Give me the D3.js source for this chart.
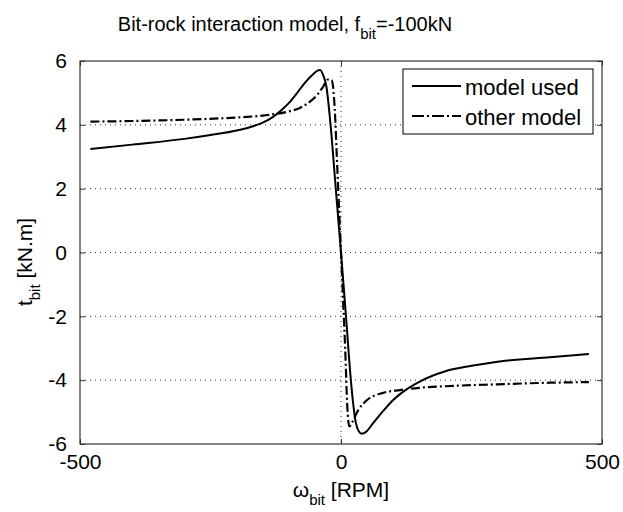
<!DOCTYPE html>
<html>
<head>
<meta charset="utf-8">
<script src="https://cdn.jsdelivr.net/npm/d3@7"></script>
<style>
  body { margin: 0; background: #fff; }
  text { font-family: "Liberation Sans", Arial, sans-serif; fill: #000; }
</style>
</head>
<body>
<div id="chart"></div>
<script>
// data (RPM, kN.m)
var usedRpm = [-480, -400, -300, -250, -200, -170, -150, -130, -115, -100, -85, -70, -55, -45, -40, -34, -28, -20, -10, 0,
               10, 20, 28, 34, 40, 48, 60, 80, 100, 120, 150, 200, 250, 300, 400, 475];
var usedTorque = [3.24, 3.38, 3.56, 3.68, 3.82, 3.95, 4.07, 4.25, 4.45, 4.68, 4.98, 5.30, 5.56, 5.70, 5.72, 5.55, 5.20, 4.00, 2.00, 0,
                  -2.10, -4.20, -5.30, -5.60, -5.68, -5.62, -5.38, -4.98, -4.62, -4.35, -4.05, -3.72, -3.55, -3.42, -3.28, -3.18];
var otherRpm = [-480, -400, -300, -200, -150, -100, -80, -60, -45, -34, -25, -18, -12, -8, -4, 0,
                4, 8, 12, 16, 22, 33, 50, 80, 113, 150, 200, 300, 400, 475];
var otherTorque = [4.10, 4.12, 4.16, 4.23, 4.29, 4.42, 4.52, 4.72, 4.95, 5.20, 5.42, 5.40, 4.50, 3.00, 1.50, 0,
                   -1.50, -3.00, -4.80, -5.45, -5.30, -4.94, -4.62, -4.40, -4.31, -4.24, -4.19, -4.13, -4.08, -4.06];
var xTicks = [-500, 0, 500];
var yTicks = [-6, -4, -2, 0, 2, 4, 6];
var legendLabels = ["model used", "other model"];

var W = 623, H = 512;
var margin = {top: 61, right: 21, bottom: 68, left: 80},
    width = W - margin.left - margin.right,
    height = H - margin.top - margin.bottom;

var svg = d3.select("#chart")
  .append("svg")
    .attr("width", W)
    .attr("height", H)
    .style("background", "#fff");

var g = svg.append("g")
    .attr("transform", "translate(" + margin.left + "," + margin.top + ")");

var x = d3.scaleLinear().domain([-500, 500]).range([0, width]);
var y = d3.scaleLinear().domain([-6, 6]).range([height, 0]);

// plain hyphen minus like matlab
var fmt = function(d) { return String(d); };

// grid (dotted)
g.selectAll(".hgrid")
  .data(yTicks.filter(function(d) { return d > -6 && d < 6; }))
  .enter().append("line")
    .attr("x1", 0).attr("x2", width)
    .attr("y1", function(d) { return y(d); })
    .attr("y2", function(d) { return y(d); })
    .attr("stroke", "#333")
    .attr("stroke-width", 1)
    .attr("stroke-dasharray", "1,4");
g.selectAll(".vgrid")
  .data(xTicks.filter(function(d) { return d > -500 && d < 500; }))
  .enter().append("line")
    .attr("y1", 0).attr("y2", height)
    .attr("x1", function(d) { return x(d); })
    .attr("x2", function(d) { return x(d); })
    .attr("stroke", "#333")
    .attr("stroke-width", 1)
    .attr("stroke-dasharray", "1,4");

// axes: ticks inward, matlab style
var tickLen = 5;
g.append("g")
  .attr("transform", "translate(0," + height + ")")
  .call(d3.axisBottom(x).tickValues(xTicks).tickFormat(fmt).tickSizeInner(-tickLen).tickSizeOuter(0).tickPadding(10))
  .call(function(a) { a.select(".domain").remove(); });
g.append("g")
  .call(d3.axisTop(x).tickValues(xTicks).tickSizeInner(-tickLen).tickSizeOuter(0).tickFormat(""))
  .call(function(a) { a.select(".domain").remove(); });
g.append("g")
  .call(d3.axisLeft(y).tickValues(yTicks).tickFormat(fmt).tickSizeInner(-tickLen).tickSizeOuter(0).tickPadding(13))
  .call(function(a) { a.select(".domain").remove(); });
g.append("g")
  .attr("transform", "translate(" + width + ",0)")
  .call(d3.axisRight(y).tickValues(yTicks).tickSizeInner(-tickLen).tickSizeOuter(0).tickFormat(""))
  .call(function(a) { a.select(".domain").remove(); });

g.selectAll(".tick line").attr("stroke", "#333");
g.selectAll(".tick text")
  .style("font-family", "'Liberation Sans', Arial, sans-serif")
  .style("font-size", "21px")
  .attr("fill", "#000");

// box
g.append("rect")
  .attr("width", width).attr("height", height)
  .attr("fill", "none")
  .attr("stroke", "#333")
  .attr("stroke-width", 1.2);

// curves
var line = d3.line()
  .x(function(d) { return x(d[0]); })
  .y(function(d) { return y(d[1]); })
  .curve(d3.curveMonotoneX);

g.append("path")
  .datum(otherRpm.map(function(r, i) { return [r, otherTorque[i]]; }))
  .attr("d", line)
  .attr("fill", "none")
  .attr("stroke", "#000")
  .attr("stroke-width", 2.2)
  .attr("stroke-dasharray", "9,3,2,3");

g.append("path")
  .datum(usedRpm.map(function(r, i) { return [r, usedTorque[i]]; }))
  .attr("d", line)
  .attr("fill", "none")
  .attr("stroke", "#000")
  .attr("stroke-width", 2);

// legend
var lg = svg.append("g");
lg.append("rect")
  .attr("x", 403).attr("y", 69)
  .attr("width", 190).attr("height", 65)
  .attr("fill", "#fff")
  .attr("stroke", "#000")
  .attr("stroke-width", 1);
legendLabels.forEach(function(lab, i) {
  var ly = 86 + i * 30;
  lg.append("line")
    .attr("x1", 412).attr("x2", 461)
    .attr("y1", ly).attr("y2", ly)
    .attr("stroke", "#000")
    .attr("stroke-width", 2)
    .attr("stroke-dasharray", i == 0 ? null : "12,3,2,3");
  lg.append("text")
    .attr("x", 465).attr("y", ly + 9)
    .style("font-size", "22px")
    .text(lab);
});

// title
var title = svg.append("text")
  .attr("x", 285).attr("y", 31)
  .attr("text-anchor", "middle")
  .style("font-size", "20px");
title.append("tspan").text("Bit-rock interaction model, f");
title.append("tspan").attr("dy", 8).style("font-size", "15px").text("bit");
title.append("tspan").attr("dy", -8).text("=-100kN");

// x label
var xl = svg.append("text")
  .attr("x", 341).attr("y", 497)
  .attr("text-anchor", "middle")
  .style("font-size", "21px");
xl.append("tspan").text("\u03c9");
xl.append("tspan").attr("dy", 8).style("font-size", "15px").text("bit");
xl.append("tspan").attr("dy", -8).text(" [RPM]");

// y label
var yl = svg.append("text")
  .attr("transform", "translate(32,262) rotate(-90)")
  .attr("text-anchor", "middle")
  .style("font-size", "21px");
yl.append("tspan").text("t");
yl.append("tspan").attr("dy", 8).style("font-size", "15px").text("bit");
yl.append("tspan").attr("dy", -8).text(" [kN.m]");
</script>
</body>
</html>
